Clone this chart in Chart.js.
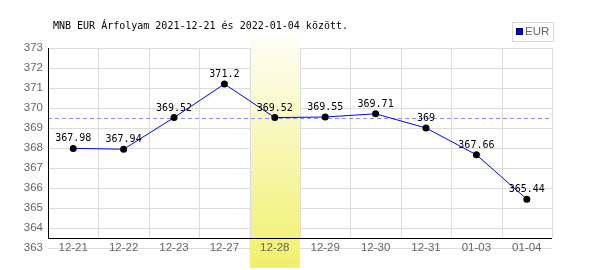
<!DOCTYPE html>
<html>
<head>
<meta charset="utf-8">
<script src="https://cdn.jsdelivr.net/npm/chart.js@4/dist/chart.umd.min.js"></script>
<style>
  html, body { margin: 0; padding: 0; background: #fff; }
  #wrap { width: 600px; height: 270px; }
</style>
</head>
<body>
<div id="wrap"><canvas id="rateChart" width="600" height="270"></canvas></div>
<script>
// data
const dates = ['12-21', '12-22', '12-23', '12-27', '12-28', '12-29', '12-30', '12-31', '01-03', '01-04'];
const eurRates = [367.98, 367.94, 369.52, 371.2, 369.52, 369.55, 369.71, 369, 367.66, 365.44];
const highlightIndex = 4;
const refRate = 369.52;
const yMin = 363, yMax = 373;
const titleText = 'MNB EUR Árfolyam 2021-12-21 és 2022-01-04 között.';
const seriesName = 'EUR';

const MONO = '10px "DejaVu Sans Mono", monospace';
const SANS = '11.5px "Liberation Sans", Arial, sans-serif';
const GRID = '#dcdcdc';
const TICK = '#666';

const decor = {
    id: 'decor',
    beforeDatasetsDraw(chart) {
        const { ctx, chartArea: a, scales: { x, y } } = chart;
        const step = (a.right - a.left) / dates.length;
        const axisY = y.getPixelForValue(yMin + 0.5);

        ctx.save();
        // highlighted day
        const bx = x.getPixelForValue(highlightIndex);
        const g = ctx.createLinearGradient(0, 36, 0, 268);
        g.addColorStop(0, '#fefef6');
        g.addColorStop(1, '#f0f06c');
        ctx.fillStyle = g;
        ctx.fillRect(bx - step / 2, 36, step, 232);

        // vertical grid
        ctx.strokeStyle = GRID;
        ctx.lineWidth = 1;
        for (let i = 0; i <= dates.length; i++) {
            const px = Math.round(a.left + i * step) + 0.5;
            ctx.beginPath();
            ctx.moveTo(px, a.top);
            ctx.lineTo(px, axisY);
            ctx.stroke();
        }

        // reference line
        const ry = Math.round(y.getPixelForValue(refRate)) + 0.5;
        ctx.strokeStyle = '#8c8cff';
        ctx.setLineDash([4, 3]);
        ctx.beginPath();
        ctx.moveTo(a.left, ry);
        ctx.lineTo(a.right, ry);
        ctx.stroke();
        ctx.setLineDash([]);

        // axes
        ctx.strokeStyle = '#000';
        ctx.beginPath();
        ctx.moveTo(a.left + 0.5, a.top);
        ctx.lineTo(a.left + 0.5, Math.round(axisY) + 0.5);
        ctx.lineTo(a.right, Math.round(axisY) + 0.5);
        ctx.stroke();

        // x labels
        ctx.fillStyle = TICK;
        ctx.font = SANS;
        ctx.textAlign = 'center';
        ctx.textBaseline = 'middle';
        dates.forEach((d, i) => ctx.fillText(d, x.getPixelForValue(i), a.bottom));
        ctx.restore();
    },
    afterDatasetsDraw(chart) {
        const { ctx } = chart;
        const meta = chart.getDatasetMeta(0);
        ctx.save();
        ctx.fillStyle = '#000';
        ctx.font = MONO;
        ctx.textAlign = 'center';
        ctx.textBaseline = 'alphabetic';
        meta.data.forEach((pt, i) => {
            ctx.fillText(String(eurRates[i]), pt.x, pt.y - 7);
        });
        ctx.restore();
    },
    afterDraw(chart) {
        const { ctx } = chart;
        ctx.save();
        // title
        ctx.fillStyle = '#000';
        ctx.font = MONO;
        ctx.textAlign = 'left';
        ctx.textBaseline = 'middle';
        ctx.fillText(titleText, 53, 26);

        // legend
        ctx.fillStyle = '#fff';
        ctx.fillRect(512, 22, 41, 19);
        ctx.strokeStyle = '#d8d8d8';
        ctx.strokeRect(512.5, 22.5, 41, 19);
        ctx.fillStyle = '#0000ff';
        ctx.fillRect(516, 28, 6, 6);
        ctx.strokeStyle = '#000060';
        ctx.strokeRect(516.5, 28.5, 6, 6);
        ctx.fillStyle = TICK;
        ctx.font = SANS;
        ctx.fillText(seriesName, 525, 32);
        ctx.restore();
    }
};

new Chart(document.getElementById('rateChart'), {
    type: 'line',
    data: {
        labels: dates,
        datasets: [{
            label: seriesName,
            data: eurRates,
            borderColor: '#0000ff',
            borderWidth: 1,
            pointRadius: 3.5,
            pointBackgroundColor: '#000',
            pointBorderColor: '#000',
            pointBorderWidth: 0,
            tension: 0
        }]
    },
    options: {
        responsive: false,
        animation: false,
        devicePixelRatio: 1,
        layout: { padding: { top: 48, right: 48, bottom: 22, left: 0 } },
        plugins: { legend: { display: false }, tooltip: { enabled: false }, title: { display: false } },
        scales: {
            x: {
                type: 'category',
                offset: true,
                grid: { display: false },
                border: { display: false },
                ticks: { display: false },
                afterFit: s => { s.height = 0; }
            },
            y: {
                min: yMin,
                max: yMax,
                grid: { color: GRID, drawTicks: false },
                border: { display: false },
                ticks: {
                    stepSize: 1,
                    color: TICK,
                    padding: 5,
                    font: { family: '"Liberation Sans", Arial, sans-serif', size: 11.5 }
                },
                afterFit: s => { s.width = 48; }
            }
        }
    },
    plugins: [decor]
});
</script>
</body>
</html>
